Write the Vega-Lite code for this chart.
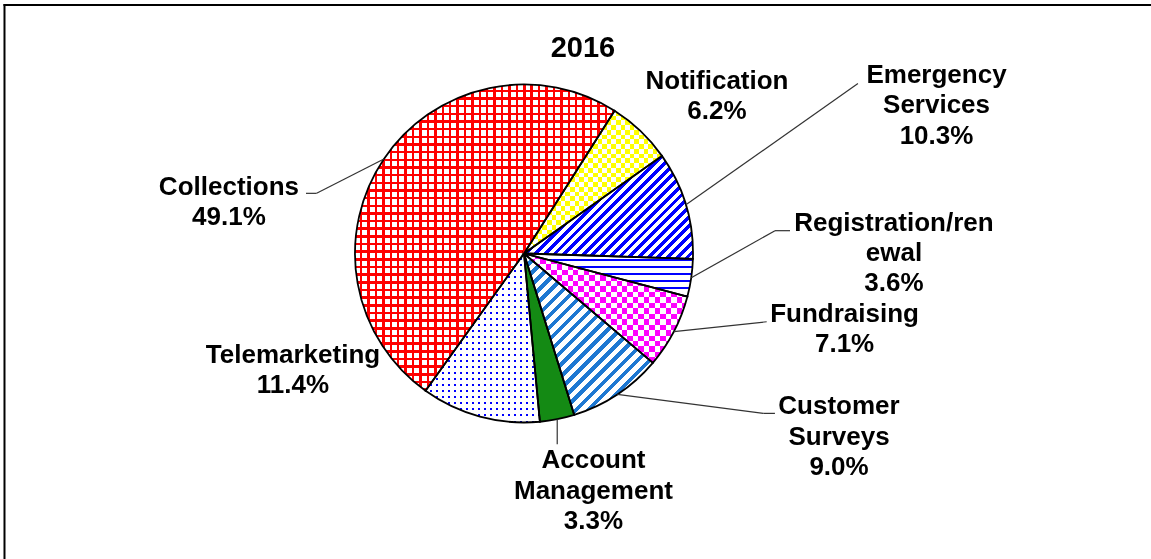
{
"$schema":"https://vega.github.io/schema/vega-lite/v6.json",
"width":1151,"height":559,"autosize":{"type":"none"},"padding":0,"background":"white",
"data":{"values":[
{"name":"Notification","label":"Notification","value":6.2,"rank":1},
{"name":"Emergency Services","label":"Emergency\nServices","value":10.3,"rank":2},
{"name":"Registration/renewal","label":"Registration/ren\newal","value":3.6,"rank":3},
{"name":"Fundraising","label":"Fundraising","value":7.1,"rank":4},
{"name":"Customer Surveys","label":"Customer\nSurveys","value":9.0,"rank":5},
{"name":"Account Management","label":"Account\nManagement","value":3.3,"rank":6},
{"name":"Telemarketing","label":"Telemarketing","value":11.4,"rank":7},
{"name":"Collections","label":"Collections","value":49.1,"rank":8}
]},
"transform":[{"calculate":"datum.label + '\\n' + format(datum.value, '.1f') + '%'","as":"txt"}],
"layer":[
{"mark":{"type":"arc","radius":169,"strokeWidth":0},
 "encoding":{
  "x":{"datum":0,"type":"quantitative","scale":{"domain":[-310.06,371.01],"nice":false,"zero":false}},
  "y":{"datum":0,"type":"quantitative","scale":{"domain":[-180.77,150],"nice":false,"zero":false}},
  "theta":{"field":"value","type":"quantitative","stack":true,"scale":{"domain":[0,100],"range":[0.5655,6.8487]}},
  "order":{"field":"rank","type":"quantitative"},
  "fill":{"condition":[
   {"test":"datum.name === 'Collections'","value":{"gradient":"linear","x1":0,"y1":0,"x2":0,"y2":1,"stops":[
{"offset":0,"color":"#fff"},
{"offset":0.0168,"color":"#fff"},{"offset":0.0168,"color":"#f00"},{"offset":0.025,"color":"#f00"},{"offset":0.025,"color":"#fff"},
{"offset":0.0418,"color":"#fff"},{"offset":0.0418,"color":"#f00"},{"offset":0.05,"color":"#f00"},{"offset":0.05,"color":"#fff"},
{"offset":0.0668,"color":"#fff"},{"offset":0.0668,"color":"#f00"},{"offset":0.075,"color":"#f00"},{"offset":0.075,"color":"#fff"},
{"offset":0.0918,"color":"#fff"},{"offset":0.0918,"color":"#f00"},{"offset":0.1,"color":"#f00"},{"offset":0.1,"color":"#fff"},
{"offset":0.1168,"color":"#fff"},{"offset":0.1168,"color":"#f00"},{"offset":0.125,"color":"#f00"},{"offset":0.125,"color":"#fff"},
{"offset":0.1418,"color":"#fff"},{"offset":0.1418,"color":"#f00"},{"offset":0.15,"color":"#f00"},{"offset":0.15,"color":"#fff"},
{"offset":0.1668,"color":"#fff"},{"offset":0.1668,"color":"#f00"},{"offset":0.175,"color":"#f00"},{"offset":0.175,"color":"#fff"},
{"offset":0.1918,"color":"#fff"},{"offset":0.1918,"color":"#f00"},{"offset":0.2,"color":"#f00"},{"offset":0.2,"color":"#fff"},
{"offset":0.2168,"color":"#fff"},{"offset":0.2168,"color":"#f00"},{"offset":0.225,"color":"#f00"},{"offset":0.225,"color":"#fff"},
{"offset":0.2418,"color":"#fff"},{"offset":0.2418,"color":"#f00"},{"offset":0.25,"color":"#f00"},{"offset":0.25,"color":"#fff"},
{"offset":0.2668,"color":"#fff"},{"offset":0.2668,"color":"#f00"},{"offset":0.275,"color":"#f00"},{"offset":0.275,"color":"#fff"},
{"offset":0.2918,"color":"#fff"},{"offset":0.2918,"color":"#f00"},{"offset":0.3,"color":"#f00"},{"offset":0.3,"color":"#fff"},
{"offset":0.3168,"color":"#fff"},{"offset":0.3168,"color":"#f00"},{"offset":0.325,"color":"#f00"},{"offset":0.325,"color":"#fff"},
{"offset":0.3418,"color":"#fff"},{"offset":0.3418,"color":"#f00"},{"offset":0.35,"color":"#f00"},{"offset":0.35,"color":"#fff"},
{"offset":0.3668,"color":"#fff"},{"offset":0.3668,"color":"#f00"},{"offset":0.375,"color":"#f00"},{"offset":0.375,"color":"#fff"},
{"offset":0.3918,"color":"#fff"},{"offset":0.3918,"color":"#f00"},{"offset":0.4,"color":"#f00"},{"offset":0.4,"color":"#fff"},
{"offset":0.4168,"color":"#fff"},{"offset":0.4168,"color":"#f00"},{"offset":0.425,"color":"#f00"},{"offset":0.425,"color":"#fff"},
{"offset":0.4418,"color":"#fff"},{"offset":0.4418,"color":"#f00"},{"offset":0.45,"color":"#f00"},{"offset":0.45,"color":"#fff"},
{"offset":0.4668,"color":"#fff"},{"offset":0.4668,"color":"#f00"},{"offset":0.475,"color":"#f00"},{"offset":0.475,"color":"#fff"},
{"offset":0.4918,"color":"#fff"},{"offset":0.4918,"color":"#f00"},{"offset":0.5,"color":"#f00"},{"offset":0.5,"color":"#fff"},
{"offset":0.5168,"color":"#fff"},{"offset":0.5168,"color":"#f00"},{"offset":0.525,"color":"#f00"},{"offset":0.525,"color":"#fff"},
{"offset":0.5418,"color":"#fff"},{"offset":0.5418,"color":"#f00"},{"offset":0.55,"color":"#f00"},{"offset":0.55,"color":"#fff"},
{"offset":0.5668,"color":"#fff"},{"offset":0.5668,"color":"#f00"},{"offset":0.575,"color":"#f00"},{"offset":0.575,"color":"#fff"},
{"offset":0.5918,"color":"#fff"},{"offset":0.5918,"color":"#f00"},{"offset":0.6,"color":"#f00"},{"offset":0.6,"color":"#fff"},
{"offset":0.6168,"color":"#fff"},{"offset":0.6168,"color":"#f00"},{"offset":0.625,"color":"#f00"},{"offset":0.625,"color":"#fff"},
{"offset":0.6418,"color":"#fff"},{"offset":0.6418,"color":"#f00"},{"offset":0.65,"color":"#f00"},{"offset":0.65,"color":"#fff"},
{"offset":0.6668,"color":"#fff"},{"offset":0.6668,"color":"#f00"},{"offset":0.675,"color":"#f00"},{"offset":0.675,"color":"#fff"},
{"offset":0.6918,"color":"#fff"},{"offset":0.6918,"color":"#f00"},{"offset":0.7,"color":"#f00"},{"offset":0.7,"color":"#fff"},
{"offset":0.7168,"color":"#fff"},{"offset":0.7168,"color":"#f00"},{"offset":0.725,"color":"#f00"},{"offset":0.725,"color":"#fff"},
{"offset":0.7418,"color":"#fff"},{"offset":0.7418,"color":"#f00"},{"offset":0.75,"color":"#f00"},{"offset":0.75,"color":"#fff"},
{"offset":0.7668,"color":"#fff"},{"offset":0.7668,"color":"#f00"},{"offset":0.775,"color":"#f00"},{"offset":0.775,"color":"#fff"},
{"offset":0.7918,"color":"#fff"},{"offset":0.7918,"color":"#f00"},{"offset":0.8,"color":"#f00"},{"offset":0.8,"color":"#fff"},
{"offset":0.8168,"color":"#fff"},{"offset":0.8168,"color":"#f00"},{"offset":0.825,"color":"#f00"},{"offset":0.825,"color":"#fff"},
{"offset":0.8418,"color":"#fff"},{"offset":0.8418,"color":"#f00"},{"offset":0.85,"color":"#f00"},{"offset":0.85,"color":"#fff"},
{"offset":0.8668,"color":"#fff"},{"offset":0.8668,"color":"#f00"},{"offset":0.875,"color":"#f00"},{"offset":0.875,"color":"#fff"},
{"offset":0.8918,"color":"#fff"},{"offset":0.8918,"color":"#f00"},{"offset":0.9,"color":"#f00"},{"offset":0.9,"color":"#fff"},
{"offset":0.9168,"color":"#fff"},{"offset":0.9168,"color":"#f00"},{"offset":0.925,"color":"#f00"},{"offset":0.925,"color":"#fff"},
{"offset":0.9418,"color":"#fff"},{"offset":0.9418,"color":"#f00"},{"offset":0.95,"color":"#f00"},{"offset":0.95,"color":"#fff"},
{"offset":0.9668,"color":"#fff"},{"offset":0.9668,"color":"#f00"},{"offset":0.975,"color":"#f00"},{"offset":0.975,"color":"#fff"},
{"offset":0.9918,"color":"#fff"},{"offset":0.9918,"color":"#f00"},{"offset":1,"color":"#f00"}
   ]}},
   {"test":"datum.name === 'Emergency Services'","value":{"gradient":"linear","x1":0,"y1":0,"x2":1.1737,"y2":0.7147,"stops":[
{"offset":0,"color":"#00f"},{"offset":0.0179,"color":"#00f"},{"offset":0.0179,"color":"#fff"},{"offset":0.0357,"color":"#fff"},
{"offset":0.0357,"color":"#00f"},{"offset":0.0536,"color":"#00f"},{"offset":0.0536,"color":"#fff"},{"offset":0.0714,"color":"#fff"},
{"offset":0.0714,"color":"#00f"},{"offset":0.0893,"color":"#00f"},{"offset":0.0893,"color":"#fff"},{"offset":0.1071,"color":"#fff"},
{"offset":0.1071,"color":"#00f"},{"offset":0.125,"color":"#00f"},{"offset":0.125,"color":"#fff"},{"offset":0.1429,"color":"#fff"},
{"offset":0.1429,"color":"#00f"},{"offset":0.1607,"color":"#00f"},{"offset":0.1607,"color":"#fff"},{"offset":0.1786,"color":"#fff"},
{"offset":0.1786,"color":"#00f"},{"offset":0.1964,"color":"#00f"},{"offset":0.1964,"color":"#fff"},{"offset":0.2143,"color":"#fff"},
{"offset":0.2143,"color":"#00f"},{"offset":0.2321,"color":"#00f"},{"offset":0.2321,"color":"#fff"},{"offset":0.25,"color":"#fff"},
{"offset":0.25,"color":"#00f"},{"offset":0.2679,"color":"#00f"},{"offset":0.2679,"color":"#fff"},{"offset":0.2857,"color":"#fff"},
{"offset":0.2857,"color":"#00f"},{"offset":0.3036,"color":"#00f"},{"offset":0.3036,"color":"#fff"},{"offset":0.3214,"color":"#fff"},
{"offset":0.3214,"color":"#00f"},{"offset":0.3393,"color":"#00f"},{"offset":0.3393,"color":"#fff"},{"offset":0.3571,"color":"#fff"},
{"offset":0.3571,"color":"#00f"},{"offset":0.375,"color":"#00f"},{"offset":0.375,"color":"#fff"},{"offset":0.3929,"color":"#fff"},
{"offset":0.3929,"color":"#00f"},{"offset":0.4107,"color":"#00f"},{"offset":0.4107,"color":"#fff"},{"offset":0.4286,"color":"#fff"},
{"offset":0.4286,"color":"#00f"},{"offset":0.4464,"color":"#00f"},{"offset":0.4464,"color":"#fff"},{"offset":0.4643,"color":"#fff"},
{"offset":0.4643,"color":"#00f"},{"offset":0.4821,"color":"#00f"},{"offset":0.4821,"color":"#fff"},{"offset":0.5,"color":"#fff"},
{"offset":0.5,"color":"#00f"},{"offset":0.5179,"color":"#00f"},{"offset":0.5179,"color":"#fff"},{"offset":0.5357,"color":"#fff"},
{"offset":0.5357,"color":"#00f"},{"offset":0.5536,"color":"#00f"},{"offset":0.5536,"color":"#fff"},{"offset":0.5714,"color":"#fff"},
{"offset":0.5714,"color":"#00f"},{"offset":0.5893,"color":"#00f"},{"offset":0.5893,"color":"#fff"},{"offset":0.6071,"color":"#fff"},
{"offset":0.6071,"color":"#00f"},{"offset":0.625,"color":"#00f"},{"offset":0.625,"color":"#fff"},{"offset":0.6429,"color":"#fff"},
{"offset":0.6429,"color":"#00f"},{"offset":0.6607,"color":"#00f"},{"offset":0.6607,"color":"#fff"},{"offset":0.6786,"color":"#fff"},
{"offset":0.6786,"color":"#00f"},{"offset":0.6964,"color":"#00f"},{"offset":0.6964,"color":"#fff"},{"offset":0.7143,"color":"#fff"},
{"offset":0.7143,"color":"#00f"},{"offset":0.7321,"color":"#00f"},{"offset":0.7321,"color":"#fff"},{"offset":0.75,"color":"#fff"},
{"offset":0.75,"color":"#00f"},{"offset":0.7679,"color":"#00f"},{"offset":0.7679,"color":"#fff"},{"offset":0.7857,"color":"#fff"},
{"offset":0.7857,"color":"#00f"},{"offset":0.8036,"color":"#00f"},{"offset":0.8036,"color":"#fff"},{"offset":0.8214,"color":"#fff"},
{"offset":0.8214,"color":"#00f"},{"offset":0.8393,"color":"#00f"},{"offset":0.8393,"color":"#fff"},{"offset":0.8571,"color":"#fff"},
{"offset":0.8571,"color":"#00f"},{"offset":0.875,"color":"#00f"},{"offset":0.875,"color":"#fff"},{"offset":0.8929,"color":"#fff"},
{"offset":0.8929,"color":"#00f"},{"offset":0.9107,"color":"#00f"},{"offset":0.9107,"color":"#fff"},{"offset":0.9286,"color":"#fff"},
{"offset":0.9286,"color":"#00f"},{"offset":0.9464,"color":"#00f"},{"offset":0.9464,"color":"#fff"},{"offset":0.9643,"color":"#fff"},
{"offset":0.9643,"color":"#00f"},{"offset":0.9821,"color":"#00f"},{"offset":0.9821,"color":"#fff"},{"offset":1,"color":"#fff"}
   ]}},
   {"test":"datum.name === 'Registration/renewal'","value":{"gradient":"linear","x1":0,"y1":0,"x2":0,"y2":1,"stops":[
{"offset":0,"color":"#fff"},
{"offset":0.1207,"color":"#fff"},{"offset":0.1207,"color":"#00f"},{"offset":0.1667,"color":"#00f"},{"offset":0.1667,"color":"#fff"},
{"offset":0.2873,"color":"#fff"},{"offset":0.2873,"color":"#00f"},{"offset":0.3333,"color":"#00f"},{"offset":0.3333,"color":"#fff"},
{"offset":0.454,"color":"#fff"},{"offset":0.454,"color":"#00f"},{"offset":0.5,"color":"#00f"},{"offset":0.5,"color":"#fff"},
{"offset":0.6207,"color":"#fff"},{"offset":0.6207,"color":"#00f"},{"offset":0.6667,"color":"#00f"},{"offset":0.6667,"color":"#fff"},
{"offset":0.7873,"color":"#fff"},{"offset":0.7873,"color":"#00f"},{"offset":0.8333,"color":"#00f"},{"offset":0.8333,"color":"#fff"},
{"offset":0.954,"color":"#fff"},{"offset":0.954,"color":"#00f"},{"offset":1,"color":"#00f"}
   ]}},
   {"test":"datum.name === 'Customer Surveys'","value":{"gradient":"linear","x1":0,"y1":0,"x2":0.8768,"y2":1.0983,"stops":[
{"offset":0,"color":"#1e78d2"},{"offset":0.0188,"color":"#1e78d2"},{"offset":0.0188,"color":"#fff"},{"offset":0.0417,"color":"#fff"},
{"offset":0.0417,"color":"#1e78d2"},{"offset":0.0605,"color":"#1e78d2"},{"offset":0.0605,"color":"#fff"},{"offset":0.0833,"color":"#fff"},
{"offset":0.0833,"color":"#1e78d2"},{"offset":0.1021,"color":"#1e78d2"},{"offset":0.1021,"color":"#fff"},{"offset":0.125,"color":"#fff"},
{"offset":0.125,"color":"#1e78d2"},{"offset":0.1438,"color":"#1e78d2"},{"offset":0.1438,"color":"#fff"},{"offset":0.1667,"color":"#fff"},
{"offset":0.1667,"color":"#1e78d2"},{"offset":0.1855,"color":"#1e78d2"},{"offset":0.1855,"color":"#fff"},{"offset":0.2083,"color":"#fff"},
{"offset":0.2083,"color":"#1e78d2"},{"offset":0.2271,"color":"#1e78d2"},{"offset":0.2271,"color":"#fff"},{"offset":0.25,"color":"#fff"},
{"offset":0.25,"color":"#1e78d2"},{"offset":0.2688,"color":"#1e78d2"},{"offset":0.2688,"color":"#fff"},{"offset":0.2917,"color":"#fff"},
{"offset":0.2917,"color":"#1e78d2"},{"offset":0.3105,"color":"#1e78d2"},{"offset":0.3105,"color":"#fff"},{"offset":0.3333,"color":"#fff"},
{"offset":0.3333,"color":"#1e78d2"},{"offset":0.3521,"color":"#1e78d2"},{"offset":0.3521,"color":"#fff"},{"offset":0.375,"color":"#fff"},
{"offset":0.375,"color":"#1e78d2"},{"offset":0.3938,"color":"#1e78d2"},{"offset":0.3938,"color":"#fff"},{"offset":0.4167,"color":"#fff"},
{"offset":0.4167,"color":"#1e78d2"},{"offset":0.4355,"color":"#1e78d2"},{"offset":0.4355,"color":"#fff"},{"offset":0.4583,"color":"#fff"},
{"offset":0.4583,"color":"#1e78d2"},{"offset":0.4771,"color":"#1e78d2"},{"offset":0.4771,"color":"#fff"},{"offset":0.5,"color":"#fff"},
{"offset":0.5,"color":"#1e78d2"},{"offset":0.5188,"color":"#1e78d2"},{"offset":0.5188,"color":"#fff"},{"offset":0.5417,"color":"#fff"},
{"offset":0.5417,"color":"#1e78d2"},{"offset":0.5605,"color":"#1e78d2"},{"offset":0.5605,"color":"#fff"},{"offset":0.5833,"color":"#fff"},
{"offset":0.5833,"color":"#1e78d2"},{"offset":0.6021,"color":"#1e78d2"},{"offset":0.6021,"color":"#fff"},{"offset":0.625,"color":"#fff"},
{"offset":0.625,"color":"#1e78d2"},{"offset":0.6438,"color":"#1e78d2"},{"offset":0.6438,"color":"#fff"},{"offset":0.6667,"color":"#fff"},
{"offset":0.6667,"color":"#1e78d2"},{"offset":0.6855,"color":"#1e78d2"},{"offset":0.6855,"color":"#fff"},{"offset":0.7083,"color":"#fff"},
{"offset":0.7083,"color":"#1e78d2"},{"offset":0.7271,"color":"#1e78d2"},{"offset":0.7271,"color":"#fff"},{"offset":0.75,"color":"#fff"},
{"offset":0.75,"color":"#1e78d2"},{"offset":0.7688,"color":"#1e78d2"},{"offset":0.7688,"color":"#fff"},{"offset":0.7917,"color":"#fff"},
{"offset":0.7917,"color":"#1e78d2"},{"offset":0.8105,"color":"#1e78d2"},{"offset":0.8105,"color":"#fff"},{"offset":0.8333,"color":"#fff"},
{"offset":0.8333,"color":"#1e78d2"},{"offset":0.8521,"color":"#1e78d2"},{"offset":0.8521,"color":"#fff"},{"offset":0.875,"color":"#fff"},
{"offset":0.875,"color":"#1e78d2"},{"offset":0.8938,"color":"#1e78d2"},{"offset":0.8938,"color":"#fff"},{"offset":0.9167,"color":"#fff"},
{"offset":0.9167,"color":"#1e78d2"},{"offset":0.9355,"color":"#1e78d2"},{"offset":0.9355,"color":"#fff"},{"offset":0.9583,"color":"#fff"},
{"offset":0.9583,"color":"#1e78d2"},{"offset":0.9771,"color":"#1e78d2"},{"offset":0.9771,"color":"#fff"},{"offset":1,"color":"#fff"}
   ]}},
   {"test":"datum.name === 'Notification'","value":{"gradient":"linear","x1":0,"y1":0,"x2":0,"y2":1,"stops":[
{"offset":0,"color":"#ff0"},{"offset":0.0333,"color":"#ff0"},{"offset":0.0333,"color":"#fff"},{"offset":0.0667,"color":"#fff"},
{"offset":0.0667,"color":"#ff0"},{"offset":0.1,"color":"#ff0"},{"offset":0.1,"color":"#fff"},{"offset":0.1333,"color":"#fff"},
{"offset":0.1333,"color":"#ff0"},{"offset":0.1667,"color":"#ff0"},{"offset":0.1667,"color":"#fff"},{"offset":0.2,"color":"#fff"},
{"offset":0.2,"color":"#ff0"},{"offset":0.2333,"color":"#ff0"},{"offset":0.2333,"color":"#fff"},{"offset":0.2667,"color":"#fff"},
{"offset":0.2667,"color":"#ff0"},{"offset":0.3,"color":"#ff0"},{"offset":0.3,"color":"#fff"},{"offset":0.3333,"color":"#fff"},
{"offset":0.3333,"color":"#ff0"},{"offset":0.3667,"color":"#ff0"},{"offset":0.3667,"color":"#fff"},{"offset":0.4,"color":"#fff"},
{"offset":0.4,"color":"#ff0"},{"offset":0.4333,"color":"#ff0"},{"offset":0.4333,"color":"#fff"},{"offset":0.4667,"color":"#fff"},
{"offset":0.4667,"color":"#ff0"},{"offset":0.5,"color":"#ff0"},{"offset":0.5,"color":"#fff"},{"offset":0.5333,"color":"#fff"},
{"offset":0.5333,"color":"#ff0"},{"offset":0.5667,"color":"#ff0"},{"offset":0.5667,"color":"#fff"},{"offset":0.6,"color":"#fff"},
{"offset":0.6,"color":"#ff0"},{"offset":0.6333,"color":"#ff0"},{"offset":0.6333,"color":"#fff"},{"offset":0.6667,"color":"#fff"},
{"offset":0.6667,"color":"#ff0"},{"offset":0.7,"color":"#ff0"},{"offset":0.7,"color":"#fff"},{"offset":0.7333,"color":"#fff"},
{"offset":0.7333,"color":"#ff0"},{"offset":0.7667,"color":"#ff0"},{"offset":0.7667,"color":"#fff"},{"offset":0.8,"color":"#fff"},
{"offset":0.8,"color":"#ff0"},{"offset":0.8333,"color":"#ff0"},{"offset":0.8333,"color":"#fff"},{"offset":0.8667,"color":"#fff"},
{"offset":0.8667,"color":"#ff0"},{"offset":0.9,"color":"#ff0"},{"offset":0.9,"color":"#fff"},{"offset":0.9333,"color":"#fff"},
{"offset":0.9333,"color":"#ff0"},{"offset":0.9667,"color":"#ff0"},{"offset":0.9667,"color":"#fff"},{"offset":1,"color":"#fff"}
   ]}},
   {"test":"datum.name === 'Fundraising'","value":{"gradient":"linear","x1":0,"y1":0,"x2":0,"y2":1,"stops":[
{"offset":0,"color":"#f0f"},{"offset":0.05,"color":"#f0f"},{"offset":0.05,"color":"#fff"},{"offset":0.1,"color":"#fff"},
{"offset":0.1,"color":"#f0f"},{"offset":0.15,"color":"#f0f"},{"offset":0.15,"color":"#fff"},{"offset":0.2,"color":"#fff"},
{"offset":0.2,"color":"#f0f"},{"offset":0.25,"color":"#f0f"},{"offset":0.25,"color":"#fff"},{"offset":0.3,"color":"#fff"},
{"offset":0.3,"color":"#f0f"},{"offset":0.35,"color":"#f0f"},{"offset":0.35,"color":"#fff"},{"offset":0.4,"color":"#fff"},
{"offset":0.4,"color":"#f0f"},{"offset":0.45,"color":"#f0f"},{"offset":0.45,"color":"#fff"},{"offset":0.5,"color":"#fff"},
{"offset":0.5,"color":"#f0f"},{"offset":0.55,"color":"#f0f"},{"offset":0.55,"color":"#fff"},{"offset":0.6,"color":"#fff"},
{"offset":0.6,"color":"#f0f"},{"offset":0.65,"color":"#f0f"},{"offset":0.65,"color":"#fff"},{"offset":0.7,"color":"#fff"},
{"offset":0.7,"color":"#f0f"},{"offset":0.75,"color":"#f0f"},{"offset":0.75,"color":"#fff"},{"offset":0.8,"color":"#fff"},
{"offset":0.8,"color":"#f0f"},{"offset":0.85,"color":"#f0f"},{"offset":0.85,"color":"#fff"},{"offset":0.9,"color":"#fff"},
{"offset":0.9,"color":"#f0f"},{"offset":0.95,"color":"#f0f"},{"offset":0.95,"color":"#fff"},{"offset":1,"color":"#fff"}
   ]}},
   {"test":"datum.name === 'Telemarketing'","value":{"gradient":"linear","x1":0,"y1":0,"x2":0,"y2":1,"stops":[
{"offset":0,"color":"#fff"},
{"offset":0.0239,"color":"#fff"},{"offset":0.0239,"color":"#00f"},{"offset":0.0357,"color":"#00f"},{"offset":0.0357,"color":"#fff"},
{"offset":0.0596,"color":"#fff"},{"offset":0.0596,"color":"#00f"},{"offset":0.0714,"color":"#00f"},{"offset":0.0714,"color":"#fff"},
{"offset":0.0953,"color":"#fff"},{"offset":0.0953,"color":"#00f"},{"offset":0.1071,"color":"#00f"},{"offset":0.1071,"color":"#fff"},
{"offset":0.1311,"color":"#fff"},{"offset":0.1311,"color":"#00f"},{"offset":0.1429,"color":"#00f"},{"offset":0.1429,"color":"#fff"},
{"offset":0.1668,"color":"#fff"},{"offset":0.1668,"color":"#00f"},{"offset":0.1786,"color":"#00f"},{"offset":0.1786,"color":"#fff"},
{"offset":0.2025,"color":"#fff"},{"offset":0.2025,"color":"#00f"},{"offset":0.2143,"color":"#00f"},{"offset":0.2143,"color":"#fff"},
{"offset":0.2382,"color":"#fff"},{"offset":0.2382,"color":"#00f"},{"offset":0.25,"color":"#00f"},{"offset":0.25,"color":"#fff"},
{"offset":0.2739,"color":"#fff"},{"offset":0.2739,"color":"#00f"},{"offset":0.2857,"color":"#00f"},{"offset":0.2857,"color":"#fff"},
{"offset":0.3096,"color":"#fff"},{"offset":0.3096,"color":"#00f"},{"offset":0.3214,"color":"#00f"},{"offset":0.3214,"color":"#fff"},
{"offset":0.3453,"color":"#fff"},{"offset":0.3453,"color":"#00f"},{"offset":0.3571,"color":"#00f"},{"offset":0.3571,"color":"#fff"},
{"offset":0.3811,"color":"#fff"},{"offset":0.3811,"color":"#00f"},{"offset":0.3929,"color":"#00f"},{"offset":0.3929,"color":"#fff"},
{"offset":0.4168,"color":"#fff"},{"offset":0.4168,"color":"#00f"},{"offset":0.4286,"color":"#00f"},{"offset":0.4286,"color":"#fff"},
{"offset":0.4525,"color":"#fff"},{"offset":0.4525,"color":"#00f"},{"offset":0.4643,"color":"#00f"},{"offset":0.4643,"color":"#fff"},
{"offset":0.4882,"color":"#fff"},{"offset":0.4882,"color":"#00f"},{"offset":0.5,"color":"#00f"},{"offset":0.5,"color":"#fff"},
{"offset":0.5239,"color":"#fff"},{"offset":0.5239,"color":"#00f"},{"offset":0.5357,"color":"#00f"},{"offset":0.5357,"color":"#fff"},
{"offset":0.5596,"color":"#fff"},{"offset":0.5596,"color":"#00f"},{"offset":0.5714,"color":"#00f"},{"offset":0.5714,"color":"#fff"},
{"offset":0.5953,"color":"#fff"},{"offset":0.5953,"color":"#00f"},{"offset":0.6071,"color":"#00f"},{"offset":0.6071,"color":"#fff"},
{"offset":0.6311,"color":"#fff"},{"offset":0.6311,"color":"#00f"},{"offset":0.6429,"color":"#00f"},{"offset":0.6429,"color":"#fff"},
{"offset":0.6668,"color":"#fff"},{"offset":0.6668,"color":"#00f"},{"offset":0.6786,"color":"#00f"},{"offset":0.6786,"color":"#fff"},
{"offset":0.7025,"color":"#fff"},{"offset":0.7025,"color":"#00f"},{"offset":0.7143,"color":"#00f"},{"offset":0.7143,"color":"#fff"},
{"offset":0.7382,"color":"#fff"},{"offset":0.7382,"color":"#00f"},{"offset":0.75,"color":"#00f"},{"offset":0.75,"color":"#fff"},
{"offset":0.7739,"color":"#fff"},{"offset":0.7739,"color":"#00f"},{"offset":0.7857,"color":"#00f"},{"offset":0.7857,"color":"#fff"},
{"offset":0.8096,"color":"#fff"},{"offset":0.8096,"color":"#00f"},{"offset":0.8214,"color":"#00f"},{"offset":0.8214,"color":"#fff"},
{"offset":0.8453,"color":"#fff"},{"offset":0.8453,"color":"#00f"},{"offset":0.8571,"color":"#00f"},{"offset":0.8571,"color":"#fff"},
{"offset":0.8811,"color":"#fff"},{"offset":0.8811,"color":"#00f"},{"offset":0.8929,"color":"#00f"},{"offset":0.8929,"color":"#fff"},
{"offset":0.9168,"color":"#fff"},{"offset":0.9168,"color":"#00f"},{"offset":0.9286,"color":"#00f"},{"offset":0.9286,"color":"#fff"},
{"offset":0.9525,"color":"#fff"},{"offset":0.9525,"color":"#00f"},{"offset":0.9643,"color":"#00f"},{"offset":0.9643,"color":"#fff"},
{"offset":0.9882,"color":"#fff"},{"offset":0.9882,"color":"#00f"},{"offset":1,"color":"#00f"}
   ]}},
   {"test":"datum.name === 'Account Management'","value":"#148a14"}
  ],"value":"#fff"}
 }},
{"mark":{"type":"arc","radius":169,"strokeWidth":0,"blend":"difference"},
 "encoding":{
  "x":{"datum":0,"type":"quantitative"},
  "y":{"datum":0,"type":"quantitative"},
  "theta":{"field":"value","type":"quantitative","stack":true},
  "order":{"field":"rank","type":"quantitative"},
  "fill":{"condition":[
   {"test":"datum.name === 'Notification'","value":{"gradient":"linear","x1":0,"y1":0,"x2":1,"y2":0,"stops":[
{"offset":0,"color":"#000"},{"offset":0.0333,"color":"#000"},{"offset":0.0333,"color":"#00f"},{"offset":0.0667,"color":"#00f"},
{"offset":0.0667,"color":"#000"},{"offset":0.1,"color":"#000"},{"offset":0.1,"color":"#00f"},{"offset":0.1333,"color":"#00f"},
{"offset":0.1333,"color":"#000"},{"offset":0.1667,"color":"#000"},{"offset":0.1667,"color":"#00f"},{"offset":0.2,"color":"#00f"},
{"offset":0.2,"color":"#000"},{"offset":0.2333,"color":"#000"},{"offset":0.2333,"color":"#00f"},{"offset":0.2667,"color":"#00f"},
{"offset":0.2667,"color":"#000"},{"offset":0.3,"color":"#000"},{"offset":0.3,"color":"#00f"},{"offset":0.3333,"color":"#00f"},
{"offset":0.3333,"color":"#000"},{"offset":0.3667,"color":"#000"},{"offset":0.3667,"color":"#00f"},{"offset":0.4,"color":"#00f"},
{"offset":0.4,"color":"#000"},{"offset":0.4333,"color":"#000"},{"offset":0.4333,"color":"#00f"},{"offset":0.4667,"color":"#00f"},
{"offset":0.4667,"color":"#000"},{"offset":0.5,"color":"#000"},{"offset":0.5,"color":"#00f"},{"offset":0.5333,"color":"#00f"},
{"offset":0.5333,"color":"#000"},{"offset":0.5667,"color":"#000"},{"offset":0.5667,"color":"#00f"},{"offset":0.6,"color":"#00f"},
{"offset":0.6,"color":"#000"},{"offset":0.6333,"color":"#000"},{"offset":0.6333,"color":"#00f"},{"offset":0.6667,"color":"#00f"},
{"offset":0.6667,"color":"#000"},{"offset":0.7,"color":"#000"},{"offset":0.7,"color":"#00f"},{"offset":0.7333,"color":"#00f"},
{"offset":0.7333,"color":"#000"},{"offset":0.7667,"color":"#000"},{"offset":0.7667,"color":"#00f"},{"offset":0.8,"color":"#00f"},
{"offset":0.8,"color":"#000"},{"offset":0.8333,"color":"#000"},{"offset":0.8333,"color":"#00f"},{"offset":0.8667,"color":"#00f"},
{"offset":0.8667,"color":"#000"},{"offset":0.9,"color":"#000"},{"offset":0.9,"color":"#00f"},{"offset":0.9333,"color":"#00f"},
{"offset":0.9333,"color":"#000"},{"offset":0.9667,"color":"#000"},{"offset":0.9667,"color":"#00f"},{"offset":1,"color":"#00f"}
   ]}},
   {"test":"datum.name === 'Fundraising'","value":{"gradient":"linear","x1":0,"y1":0,"x2":1,"y2":0,"stops":[
{"offset":0,"color":"#000"},{"offset":0.0333,"color":"#000"},{"offset":0.0333,"color":"#0f0"},{"offset":0.0667,"color":"#0f0"},
{"offset":0.0667,"color":"#000"},{"offset":0.1,"color":"#000"},{"offset":0.1,"color":"#0f0"},{"offset":0.1333,"color":"#0f0"},
{"offset":0.1333,"color":"#000"},{"offset":0.1667,"color":"#000"},{"offset":0.1667,"color":"#0f0"},{"offset":0.2,"color":"#0f0"},
{"offset":0.2,"color":"#000"},{"offset":0.2333,"color":"#000"},{"offset":0.2333,"color":"#0f0"},{"offset":0.2667,"color":"#0f0"},
{"offset":0.2667,"color":"#000"},{"offset":0.3,"color":"#000"},{"offset":0.3,"color":"#0f0"},{"offset":0.3333,"color":"#0f0"},
{"offset":0.3333,"color":"#000"},{"offset":0.3667,"color":"#000"},{"offset":0.3667,"color":"#0f0"},{"offset":0.4,"color":"#0f0"},
{"offset":0.4,"color":"#000"},{"offset":0.4333,"color":"#000"},{"offset":0.4333,"color":"#0f0"},{"offset":0.4667,"color":"#0f0"},
{"offset":0.4667,"color":"#000"},{"offset":0.5,"color":"#000"},{"offset":0.5,"color":"#0f0"},{"offset":0.5333,"color":"#0f0"},
{"offset":0.5333,"color":"#000"},{"offset":0.5667,"color":"#000"},{"offset":0.5667,"color":"#0f0"},{"offset":0.6,"color":"#0f0"},
{"offset":0.6,"color":"#000"},{"offset":0.6333,"color":"#000"},{"offset":0.6333,"color":"#0f0"},{"offset":0.6667,"color":"#0f0"},
{"offset":0.6667,"color":"#000"},{"offset":0.7,"color":"#000"},{"offset":0.7,"color":"#0f0"},{"offset":0.7333,"color":"#0f0"},
{"offset":0.7333,"color":"#000"},{"offset":0.7667,"color":"#000"},{"offset":0.7667,"color":"#0f0"},{"offset":0.8,"color":"#0f0"},
{"offset":0.8,"color":"#000"},{"offset":0.8333,"color":"#000"},{"offset":0.8333,"color":"#0f0"},{"offset":0.8667,"color":"#0f0"},
{"offset":0.8667,"color":"#000"},{"offset":0.9,"color":"#000"},{"offset":0.9,"color":"#0f0"},{"offset":0.9333,"color":"#0f0"},
{"offset":0.9333,"color":"#000"},{"offset":0.9667,"color":"#000"},{"offset":0.9667,"color":"#0f0"},{"offset":1,"color":"#0f0"}
   ]}}
  ],"value":"transparent"}
 }},
{"mark":{"type":"arc","radius":169,"strokeWidth":0,"blend":"screen"},
 "encoding":{
  "x":{"datum":0,"type":"quantitative"},
  "y":{"datum":0,"type":"quantitative"},
  "theta":{"field":"value","type":"quantitative","stack":true},
  "order":{"field":"rank","type":"quantitative"},
  "fill":{"condition":[
   {"test":"datum.name === 'Telemarketing'","value":{"gradient":"linear","x1":0,"y1":0,"x2":1,"y2":0,"stops":[
{"offset":0,"color":"#fff"},
{"offset":0.0351,"color":"#fff"},{"offset":0.0351,"color":"#000"},{"offset":0.0526,"color":"#000"},{"offset":0.0526,"color":"#fff"},
{"offset":0.0878,"color":"#fff"},{"offset":0.0878,"color":"#000"},{"offset":0.1053,"color":"#000"},{"offset":0.1053,"color":"#fff"},
{"offset":0.1404,"color":"#fff"},{"offset":0.1404,"color":"#000"},{"offset":0.1579,"color":"#000"},{"offset":0.1579,"color":"#fff"},
{"offset":0.193,"color":"#fff"},{"offset":0.193,"color":"#000"},{"offset":0.2105,"color":"#000"},{"offset":0.2105,"color":"#fff"},
{"offset":0.2457,"color":"#fff"},{"offset":0.2457,"color":"#000"},{"offset":0.2632,"color":"#000"},{"offset":0.2632,"color":"#fff"},
{"offset":0.2983,"color":"#fff"},{"offset":0.2983,"color":"#000"},{"offset":0.3158,"color":"#000"},{"offset":0.3158,"color":"#fff"},
{"offset":0.3509,"color":"#fff"},{"offset":0.3509,"color":"#000"},{"offset":0.3684,"color":"#000"},{"offset":0.3684,"color":"#fff"},
{"offset":0.4036,"color":"#fff"},{"offset":0.4036,"color":"#000"},{"offset":0.4211,"color":"#000"},{"offset":0.4211,"color":"#fff"},
{"offset":0.4562,"color":"#fff"},{"offset":0.4562,"color":"#000"},{"offset":0.4737,"color":"#000"},{"offset":0.4737,"color":"#fff"},
{"offset":0.5088,"color":"#fff"},{"offset":0.5088,"color":"#000"},{"offset":0.5263,"color":"#000"},{"offset":0.5263,"color":"#fff"},
{"offset":0.5614,"color":"#fff"},{"offset":0.5614,"color":"#000"},{"offset":0.5789,"color":"#000"},{"offset":0.5789,"color":"#fff"},
{"offset":0.6141,"color":"#fff"},{"offset":0.6141,"color":"#000"},{"offset":0.6316,"color":"#000"},{"offset":0.6316,"color":"#fff"},
{"offset":0.6667,"color":"#fff"},{"offset":0.6667,"color":"#000"},{"offset":0.6842,"color":"#000"},{"offset":0.6842,"color":"#fff"},
{"offset":0.7193,"color":"#fff"},{"offset":0.7193,"color":"#000"},{"offset":0.7368,"color":"#000"},{"offset":0.7368,"color":"#fff"},
{"offset":0.772,"color":"#fff"},{"offset":0.772,"color":"#000"},{"offset":0.7895,"color":"#000"},{"offset":0.7895,"color":"#fff"},
{"offset":0.8246,"color":"#fff"},{"offset":0.8246,"color":"#000"},{"offset":0.8421,"color":"#000"},{"offset":0.8421,"color":"#fff"},
{"offset":0.8772,"color":"#fff"},{"offset":0.8772,"color":"#000"},{"offset":0.8947,"color":"#000"},{"offset":0.8947,"color":"#fff"},
{"offset":0.9299,"color":"#fff"},{"offset":0.9299,"color":"#000"},{"offset":0.9474,"color":"#000"},{"offset":0.9474,"color":"#fff"},
{"offset":0.9825,"color":"#fff"},{"offset":0.9825,"color":"#000"},{"offset":1,"color":"#000"}
   ]}}
  ],"value":"transparent"}
 }},
{"mark":{"type":"arc","radius":169,"stroke":"#000","strokeWidth":1.8},
 "encoding":{
  "x":{"datum":0,"type":"quantitative"},
  "y":{"datum":0,"type":"quantitative"},
  "theta":{"field":"value","type":"quantitative","stack":true},
  "order":{"field":"rank","type":"quantitative"},
  "fill":{"condition":[
   {"test":"datum.name === 'Collections'","value":{"gradient":"linear","x1":0,"y1":0,"x2":1,"y2":0,"stops":[
{"offset":0,"color":"#f000"},
{"offset":0.019,"color":"#f000"},{"offset":0.019,"color":"#f00"},{"offset":0.0286,"color":"#f00"},{"offset":0.0286,"color":"#f000"},
{"offset":0.0475,"color":"#f000"},{"offset":0.0475,"color":"#f00"},{"offset":0.0571,"color":"#f00"},{"offset":0.0571,"color":"#f000"},
{"offset":0.0761,"color":"#f000"},{"offset":0.0761,"color":"#f00"},{"offset":0.0857,"color":"#f00"},{"offset":0.0857,"color":"#f000"},
{"offset":0.1047,"color":"#f000"},{"offset":0.1047,"color":"#f00"},{"offset":0.1143,"color":"#f00"},{"offset":0.1143,"color":"#f000"},
{"offset":0.1333,"color":"#f000"},{"offset":0.1333,"color":"#f00"},{"offset":0.1429,"color":"#f00"},{"offset":0.1429,"color":"#f000"},
{"offset":0.1618,"color":"#f000"},{"offset":0.1618,"color":"#f00"},{"offset":0.1714,"color":"#f00"},{"offset":0.1714,"color":"#f000"},
{"offset":0.1904,"color":"#f000"},{"offset":0.1904,"color":"#f00"},{"offset":0.2,"color":"#f00"},{"offset":0.2,"color":"#f000"},
{"offset":0.219,"color":"#f000"},{"offset":0.219,"color":"#f00"},{"offset":0.2286,"color":"#f00"},{"offset":0.2286,"color":"#f000"},
{"offset":0.2475,"color":"#f000"},{"offset":0.2475,"color":"#f00"},{"offset":0.2571,"color":"#f00"},{"offset":0.2571,"color":"#f000"},
{"offset":0.2761,"color":"#f000"},{"offset":0.2761,"color":"#f00"},{"offset":0.2857,"color":"#f00"},{"offset":0.2857,"color":"#f000"},
{"offset":0.3047,"color":"#f000"},{"offset":0.3047,"color":"#f00"},{"offset":0.3143,"color":"#f00"},{"offset":0.3143,"color":"#f000"},
{"offset":0.3333,"color":"#f000"},{"offset":0.3333,"color":"#f00"},{"offset":0.3429,"color":"#f00"},{"offset":0.3429,"color":"#f000"},
{"offset":0.3618,"color":"#f000"},{"offset":0.3618,"color":"#f00"},{"offset":0.3714,"color":"#f00"},{"offset":0.3714,"color":"#f000"},
{"offset":0.3904,"color":"#f000"},{"offset":0.3904,"color":"#f00"},{"offset":0.4,"color":"#f00"},{"offset":0.4,"color":"#f000"},
{"offset":0.419,"color":"#f000"},{"offset":0.419,"color":"#f00"},{"offset":0.4286,"color":"#f00"},{"offset":0.4286,"color":"#f000"},
{"offset":0.4475,"color":"#f000"},{"offset":0.4475,"color":"#f00"},{"offset":0.4571,"color":"#f00"},{"offset":0.4571,"color":"#f000"},
{"offset":0.4761,"color":"#f000"},{"offset":0.4761,"color":"#f00"},{"offset":0.4857,"color":"#f00"},{"offset":0.4857,"color":"#f000"},
{"offset":0.5047,"color":"#f000"},{"offset":0.5047,"color":"#f00"},{"offset":0.5143,"color":"#f00"},{"offset":0.5143,"color":"#f000"},
{"offset":0.5333,"color":"#f000"},{"offset":0.5333,"color":"#f00"},{"offset":0.5429,"color":"#f00"},{"offset":0.5429,"color":"#f000"},
{"offset":0.5618,"color":"#f000"},{"offset":0.5618,"color":"#f00"},{"offset":0.5714,"color":"#f00"},{"offset":0.5714,"color":"#f000"},
{"offset":0.5904,"color":"#f000"},{"offset":0.5904,"color":"#f00"},{"offset":0.6,"color":"#f00"},{"offset":0.6,"color":"#f000"},
{"offset":0.619,"color":"#f000"},{"offset":0.619,"color":"#f00"},{"offset":0.6286,"color":"#f00"},{"offset":0.6286,"color":"#f000"},
{"offset":0.6475,"color":"#f000"},{"offset":0.6475,"color":"#f00"},{"offset":0.6571,"color":"#f00"},{"offset":0.6571,"color":"#f000"},
{"offset":0.6761,"color":"#f000"},{"offset":0.6761,"color":"#f00"},{"offset":0.6857,"color":"#f00"},{"offset":0.6857,"color":"#f000"},
{"offset":0.7047,"color":"#f000"},{"offset":0.7047,"color":"#f00"},{"offset":0.7143,"color":"#f00"},{"offset":0.7143,"color":"#f000"},
{"offset":0.7333,"color":"#f000"},{"offset":0.7333,"color":"#f00"},{"offset":0.7429,"color":"#f00"},{"offset":0.7429,"color":"#f000"},
{"offset":0.7618,"color":"#f000"},{"offset":0.7618,"color":"#f00"},{"offset":0.7714,"color":"#f00"},{"offset":0.7714,"color":"#f000"},
{"offset":0.7904,"color":"#f000"},{"offset":0.7904,"color":"#f00"},{"offset":0.8,"color":"#f00"},{"offset":0.8,"color":"#f000"},
{"offset":0.819,"color":"#f000"},{"offset":0.819,"color":"#f00"},{"offset":0.8286,"color":"#f00"},{"offset":0.8286,"color":"#f000"},
{"offset":0.8475,"color":"#f000"},{"offset":0.8475,"color":"#f00"},{"offset":0.8571,"color":"#f00"},{"offset":0.8571,"color":"#f000"},
{"offset":0.8761,"color":"#f000"},{"offset":0.8761,"color":"#f00"},{"offset":0.8857,"color":"#f00"},{"offset":0.8857,"color":"#f000"},
{"offset":0.9047,"color":"#f000"},{"offset":0.9047,"color":"#f00"},{"offset":0.9143,"color":"#f00"},{"offset":0.9143,"color":"#f000"},
{"offset":0.9333,"color":"#f000"},{"offset":0.9333,"color":"#f00"},{"offset":0.9429,"color":"#f00"},{"offset":0.9429,"color":"#f000"},
{"offset":0.9618,"color":"#f000"},{"offset":0.9618,"color":"#f00"},{"offset":0.9714,"color":"#f00"},{"offset":0.9714,"color":"#f000"},
{"offset":0.9904,"color":"#f000"},{"offset":0.9904,"color":"#f00"},{"offset":1,"color":"#f00"}
   ]}}
  ],"value":"transparent"}
 }},
{"transform":[{"filter":"datum.name === 'Collections'"}],"mark":"rule","encoding":{"x":{"datum":-82.9,"type":"quantitative"},"y":{"datum":55.9,"type":"quantitative"},"x2":{"datum":-122.7},"y2":{"datum":35.6}}},
{"transform":[{"filter":"datum.name === 'Collections'"}],"mark":"rule","encoding":{"x":{"datum":-122.7,"type":"quantitative"},"y":{"datum":35.6,"type":"quantitative"},"x2":{"datum":-129.0},"y2":{"datum":35.6}}},
{"transform":[{"filter":"datum.name === 'Emergency Services'"}],"mark":"rule","encoding":{"x":{"datum":95.8,"type":"quantitative"},"y":{"datum":28.8,"type":"quantitative"},"x2":{"datum":197.6},"y2":{"datum":100.6}}},
{"transform":[{"filter":"datum.name === 'Registration/renewal'"}],"mark":"rule","encoding":{"x":{"datum":98.96,"type":"quantitative"},"y":{"datum":-14.4,"type":"quantitative"},"x2":{"datum":148.5},"y2":{"datum":13.5}}},
{"transform":[{"filter":"datum.name === 'Registration/renewal'"}],"mark":"rule","encoding":{"x":{"datum":148.5,"type":"quantitative"},"y":{"datum":13.5,"type":"quantitative"},"x2":{"datum":157.4},"y2":{"datum":13.5}}},
{"transform":[{"filter":"datum.name === 'Fundraising'"}],"mark":"rule","encoding":{"x":{"datum":88.67,"type":"quantitative"},"y":{"datum":-46.2,"type":"quantitative"},"x2":{"datum":143.6},"y2":{"datum":-40.4}}},
{"transform":[{"filter":"datum.name === 'Customer Surveys'"}],"mark":"rule","encoding":{"x":{"datum":55.2,"type":"quantitative"},"y":{"datum":-83.4,"type":"quantitative"},"x2":{"datum":141.6},"y2":{"datum":-94.6}}},
{"transform":[{"filter":"datum.name === 'Customer Surveys'"}],"mark":"rule","encoding":{"x":{"datum":141.6,"type":"quantitative"},"y":{"datum":-94.6,"type":"quantitative"},"x2":{"datum":148.5},"y2":{"datum":-94.6}}},
{"transform":[{"filter":"datum.name === 'Account Management'"}],"mark":"rule","encoding":{"x":{"datum":19.66,"type":"quantitative"},"y":{"datum":-98.05,"type":"quantitative"},"x2":{"datum":19.66},"y2":{"datum":-112.9}}},
{"transform":[{"filter":"datum.name === 'Notification'"}],"mark":"text","encoding":{"x":{"datum":114.2,"type":"quantitative"},"y":{"datum":97.6,"type":"quantitative"},"text":{"field":"txt"}}},
{"transform":[{"filter":"datum.name === 'Emergency Services'"}],"mark":"text","encoding":{"x":{"datum":244.1,"type":"quantitative"},"y":{"datum":100.9,"type":"quantitative"},"text":{"field":"txt"}}},
{"transform":[{"filter":"datum.name === 'Registration/renewal'"}],"mark":"text","encoding":{"x":{"datum":218.9,"type":"quantitative"},"y":{"datum":13.5,"type":"quantitative"},"text":{"field":"txt"}}},
{"transform":[{"filter":"datum.name === 'Fundraising'"}],"mark":"text","encoding":{"x":{"datum":189.7,"type":"quantitative"},"y":{"datum":-40.4,"type":"quantitative"},"text":{"field":"txt"}}},
{"transform":[{"filter":"datum.name === 'Customer Surveys'"}],"mark":"text","encoding":{"x":{"datum":186.4,"type":"quantitative"},"y":{"datum":-95.1,"type":"quantitative"},"text":{"field":"txt"}}},
{"transform":[{"filter":"datum.name === 'Account Management'"}],"mark":"text","encoding":{"x":{"datum":41.1,"type":"quantitative"},"y":{"datum":-127.1,"type":"quantitative"},"text":{"field":"txt"}}},
{"transform":[{"filter":"datum.name === 'Telemarketing'"}],"mark":"text","encoding":{"x":{"datum":-136.7,"type":"quantitative"},"y":{"datum":-64.8,"type":"quantitative"},"text":{"field":"txt"}}},
{"transform":[{"filter":"datum.name === 'Collections'"}],"mark":"text","encoding":{"x":{"datum":-174.6,"type":"quantitative"},"y":{"datum":34.6,"type":"quantitative"},"text":{"field":"txt"}}},
{"data":{"values":[{"t":"2016"}]},"mark":{"type":"text","fontSize":29},"encoding":{"x":{"datum":34.9,"type":"quantitative"},"y":{"datum":116.3,"type":"quantitative"},"text":{"field":"t"}}},
{"data":{"values":[{"t":"frame"}]},"mark":{"type":"rule","color":"#000","strokeWidth":2},"encoding":{"x":{"datum":-307.4,"type":"quantitative"},"y":{"datum":147.6,"type":"quantitative"},"y2":{"datum":-180.77}}},
{"data":{"values":[{"t":"frame"}]},"mark":{"type":"rule","color":"#000","strokeWidth":2},"encoding":{"x":{"datum":-308,"type":"quantitative"},"y":{"datum":147.04,"type":"quantitative"},"x2":{"datum":371.01}}}
],
"config":{"view":{"stroke":null},"axis":{"disable":true},
 "text":{"font":"Liberation Sans","fontSize":26,"fontWeight":"bold","align":"center","baseline":"alphabetic","lineHeight":30.3,"lineBreak":"\n","color":"#000"},
 "rule":{"color":"#333","strokeWidth":1.2}}
}
